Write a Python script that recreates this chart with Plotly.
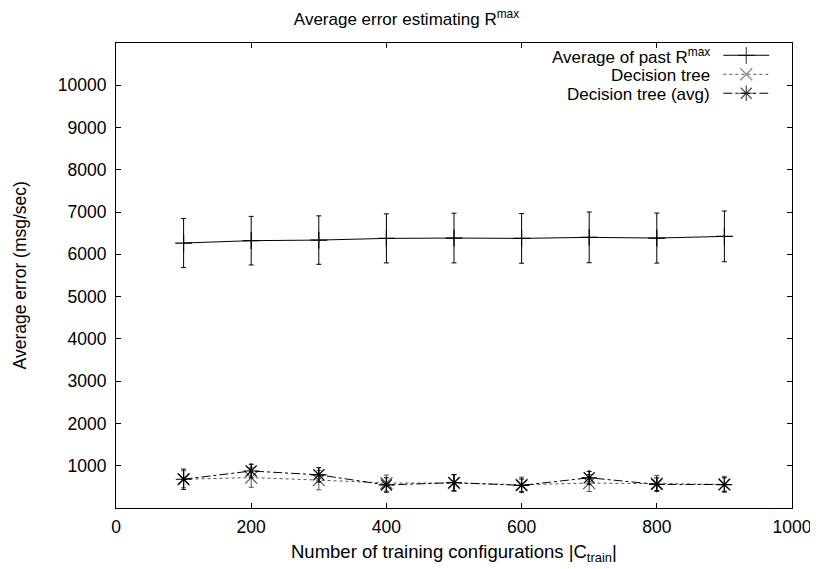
import plotly.graph_objects as go

x_train = [100, 200, 300, 400, 500, 600, 700, 800, 900]
past_rmax = [6268, 6324, 6338, 6378, 6386, 6378, 6402, 6386, 6425]
past_rmax_err = [580, 575, 573, 580, 588, 588, 600, 592, 600]
tree = [680, 720, 660, 590, 590, 550, 590, 580, 560]
tree_err = [200, 230, 230, 190, 200, 180, 200, 190, 190]
tree_avg = [680, 875, 785, 545, 600, 535, 715, 560, 555]
tree_avg_err = [240, 160, 170, 170, 190, 150, 150, 150, 160]
x_ticks = [0, 200, 400, 600, 800, 1000]
y_ticks = [1000, 2000, 3000, 4000, 5000, 6000, 7000, 8000, 9000, 10000]

names = ["Average of past R<sup>max</sup>", "Decision tree", "Decision tree (avg)"]
FONT = "Liberation Sans"

W, H = 818, 569
OFF = 8  # page body margin
px0, px1 = 116, 791.7   # screen px of plot area
py0, py1 = 42.7, 508.3
L = px0 - OFF
T = py0 - OFF
R = (W + OFF) - px1
B = (H + OFF) - py1

fig = go.Figure()

styles = [
    dict(color="black", dash="solid", symbol="cross-thin-open", size=12),
    dict(color="#555555", dash="dot", symbol="x-thin-open", size=12),
    dict(color="black", dash="dashdot", symbol="asterisk-open", size=13),
]
series = [(past_rmax, past_rmax_err), (tree, tree_err), (tree_avg, tree_avg_err)]

for (ys, es), st, nm in zip(series, styles, names):
    fig.add_trace(go.Scatter(
        x=x_train, y=ys, mode="lines+markers", name=nm, showlegend=False,
        line=dict(color=st["color"], dash=st["dash"], width=1),
        marker=dict(symbol=st["symbol"], size=st["size"],
                    line=dict(color=st["color"], width=1.2), color=st["color"]),
        error_y=dict(type="data", array=es, visible=True, color=st["color"],
                     thickness=1, width=2.5),
    ))

# custom gnuplot-style legend (text right, sample on the right)
row_y = [55, 74, 93]
for nm, st, yy in zip(names, styles, row_y):
    fig.add_trace(go.Scatter(
        x=[723, 746, 769], y=[yy, yy, yy], xaxis="x2", yaxis="y2",
        mode="lines+markers", showlegend=False, hoverinfo="skip",
        line=dict(color=st["color"], dash=st["dash"], width=1),
        marker=dict(symbol=st["symbol"], size=[0, st["size"], 0],
                    line=dict(color=st["color"], width=1.2), color=st["color"]),
    ))
    fig.add_annotation(x=712, y=yy + 1, xref="x2", yref="y2", text=nm,
                       showarrow=False, xanchor="right", yanchor="middle",
                       font=dict(family=FONT, size=17, color="black"))

# axis titles as annotations (gnuplot placement)
fig.add_annotation(x=(20 - px0) / (px1 - px0), y=0.5, xref="paper", yref="paper",
                   text="Average error (msg/sec)", textangle=-90, showarrow=False,
                   xanchor="center", yanchor="middle",
                   font=dict(family=FONT, size=17.5, color="black"))
fig.add_annotation(x=0.5, y=(py1 - 553) / (py1 - py0), xref="paper", yref="paper",
                   text="Number of training configurations |C<sub>train</sub>|",
                   showarrow=False, xanchor="center", yanchor="middle",
                   font=dict(family=FONT, size=18.5, color="black"))

axis_common = dict(showline=True, linecolor="black", linewidth=1, mirror="ticks",
                   ticks="inside", ticklen=5, tickcolor="black", showgrid=False,
                   zeroline=False, automargin=False,
                   tickfont=dict(family=FONT, size=17.5, color="black"))

fig.update_layout(
    width=W, height=H,
    margin=dict(l=L, r=R, t=T, b=B),
    plot_bgcolor="white", paper_bgcolor="white",
    title=dict(text="Average error estimating R<sup>max</sup>",
               x=(406.5 - OFF) / W, xref="container", xanchor="center",
               y=1 - (19 - OFF) / H, yref="container", yanchor="middle",
               font=dict(family=FONT, size=17, color="black")),
    xaxis=dict(range=[0, 1000], tickvals=x_ticks, tickformat="d",
               ticklabelstandoff=3, **axis_common),
    yaxis=dict(range=[0, 11000], tickvals=y_ticks, tickformat="d",
               ticklabelstandoff=5, **axis_common),
    xaxis2=dict(range=[px0, px1], overlaying="x", visible=False, fixedrange=True),
    yaxis2=dict(range=[py1, py0], overlaying="y", visible=False, fixedrange=True),
    showlegend=False,
)

fig.write_html("out.html")
